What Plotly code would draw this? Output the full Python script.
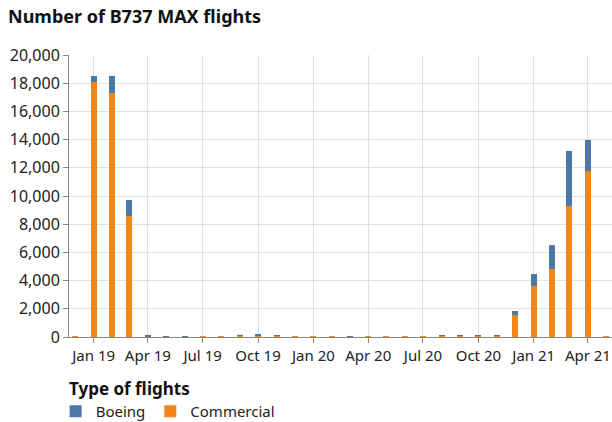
import plotly.graph_objects as go

months = ["2018-12-01", "2019-01-01", "2019-02-01", "2019-03-01", "2019-04-01", "2019-05-01",
          "2019-06-01", "2019-07-01", "2019-08-01", "2019-09-01", "2019-10-01", "2019-11-01",
          "2019-12-01", "2020-01-01", "2020-02-01", "2020-03-01", "2020-04-01", "2020-05-01",
          "2020-06-01", "2020-07-01", "2020-08-01", "2020-09-01", "2020-10-01", "2020-11-01",
          "2020-12-01", "2021-01-01", "2021-02-01", "2021-03-01", "2021-04-01", "2021-05-01"]

commercial = [60, 18060, 17280, 8580, 70, 0,
              0, 40, 40, 80, 90, 80,
              40, 40, 40, 0, 40, 40,
              40, 40, 80, 80, 80, 80,
              1540, 3600, 4800, 9270, 11750, 50]

boeing = [0, 430, 1210, 1110, 50, 40,
          40, 0, 0, 60, 60, 60,
          0, 0, 0, 40, 0, 0,
          0, 0, 50, 50, 50, 50,
          280, 845, 1700, 3900, 2200, 0]

y_ticks = list(range(0, 20001, 2000))

BLUE = "#4c78a8"
ORANGE = "#f58518"
FONT = "Noto Sans"
bar_width_ms = 10 * 86400000

fig = go.Figure()
fig.add_trace(go.Bar(x=months, y=commercial, name="Commercial", marker_color=ORANGE,
                     marker_line_width=0, width=bar_width_ms))
fig.add_trace(go.Bar(x=months, y=boeing, name="Boeing", marker_color=BLUE,
                     marker_line_width=0, width=bar_width_ms))

fig.update_layout(
    width=612, height=422,
    barmode="stack",
    plot_bgcolor="white", paper_bgcolor="white",
    margin=dict(l=69, r=0, t=55, b=85, autoexpand=False),
    font=dict(family=FONT, size=14, color="#222"),
    title=dict(text="<b>Number of B737 MAX flights</b>", x=8 / 612, xanchor="left",
               y=1 - 17 / 422, yanchor="middle", font=dict(family=FONT, size=18, color="#111")),
    showlegend=True,
    legend=dict(orientation="h", x=-0.0246, xanchor="left", y=-0.206, yanchor="top",
                traceorder="reversed", font=dict(size=15), tracegroupgap=0, itemwidth=30),
    annotations=[dict(text="<b>Type of flights</b>", xref="paper", yref="paper",
                      x=-0.003, y=-0.181, xanchor="left", yanchor="middle", showarrow=False,
                      font=dict(size=17, color="#111"))],
)

fig.update_xaxes(
    type="date", range=["2018-11-21", "2021-05-11"], automargin=False,
    tick0="2019-01-01", dtick="M3", tickformat="%b %y",
    showgrid=True, gridcolor="#e0e0e0", gridwidth=1,
    showline=True, linecolor="#888", linewidth=1,
    ticks="outside", ticklen=5, tickcolor="#888",
    tickfont=dict(size=15, color="#222"),
)
fig.update_yaxes(
    range=[0, 20000], tickvals=y_ticks, tickformat=",", automargin=False,
    showgrid=True, gridcolor="#e0e0e0", gridwidth=1,
    showline=True, linecolor="#888", linewidth=1,
    ticks="outside", ticklen=5, tickcolor="#888",
    tickfont=dict(size=16, color="#222"), zeroline=False,
)

fig.write_html("out.html", post_script="document.body.style.margin='0';",
               config={"displayModeBar": False})
